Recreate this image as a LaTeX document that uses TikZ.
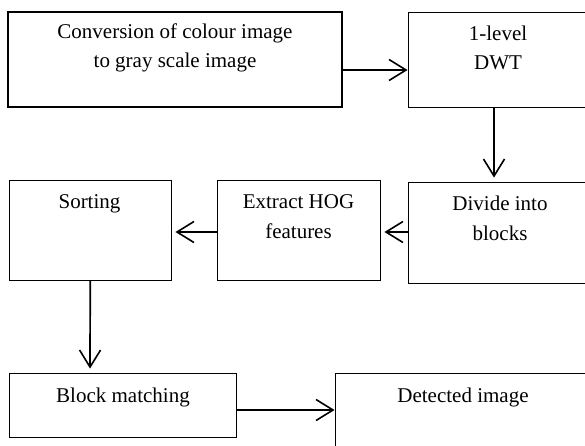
\documentclass[tikz,border=0pt]{standalone}
\usepackage{fontspec}
\setmainfont{Liberation Serif}
\usetikzlibrary{arrows.meta,calc}
\begin{document}
\begin{tikzpicture}[x=1pt,y=-1pt,
  box/.style={draw, rectangle, inner sep=0pt, line width=0.9pt},
  lbl/.style={inner sep=0pt, align=center, font=\fontsize{21}{29.5}\selectfont},
  arr/.style={line width=1.7pt, -{Straight Barb[length=17pt,width=21pt,line width=1.6pt]}}]
\useasboundingbox (0,0) rectangle (585,445);
\clip (0,0) rectangle (585,445);
% boxes
\node[box, line width=1.4pt, minimum width=334pt, minimum height=95pt] (b1) at (175,59.5) {};
\node[box, minimum width=232pt, minimum height=95pt] (dwt) at (524,59.5) {};
\node[box, minimum width=232pt, minimum height=101pt] (div) at (524,232.5) {};
\node[box, minimum width=163pt, minimum height=100pt] (hog) at (299,230) {};
\node[box, minimum width=162.5pt, minimum height=100pt] (sort) at (90.25,230) {};
\node[box, minimum width=227pt, minimum height=64pt] (bm) at (122.5,405) {};
\node[box, minimum width=305pt, minimum height=107pt] (det) at (487.5,426.5) {};
% labels
\node[lbl] (t1) at (175,48) {Conversion of colour image\\to gray scale image};
\node[lbl] (t2) at (498,48) {1-level\\DWT};
\node[lbl] (t3) at (500,218.5) {Divide into\\blocks};
\node[lbl] (t4) at (298.5,216.5) {Extract HOG\\features};
\node[lbl] (t5) at (89.5,204) {Sorting};
\node[lbl] (t6) at (123,397) {Block matching};
\node[lbl] (t7) at (463,397) {Detected image};
% connectors
\draw[arr] ($(b1.east)+(0,10.5)$) -- ($(dwt.west)+(0,10.5)$);
\draw[arr] ($(dwt.south)+(-30,0)$) -- ($(div.north)+(-30,-4)$);
\draw[arr] ($(div.west)+(0,-0.5)$) -- ($(hog.east)+(3.5,2)$);
\draw[arr] ($(hog.west)+(0,2)$) -- ($(sort.east)+(3.5,2)$);
\draw[arr] ($(sort.south)+(0,0)$) -- ($(bm.north)+(-32.5,-4)$);
\draw[arr] ($(bm.east)+(0,5)$) -- ($(det.west |- bm.east)+(0,5)$);
\end{tikzpicture}
\end{document}
